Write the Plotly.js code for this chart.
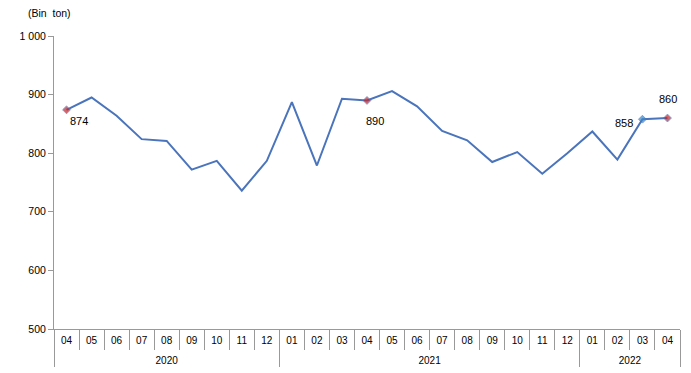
<!DOCTYPE html>
<html>
<head>
<meta charset="utf-8">
<script src="https://cdn.plot.ly/plotly-3.0.1.min.js"></script>
<style>html,body{margin:0;padding:0;background:#fff}#chart{width:691px;height:373px}</style>
</head>
<body>
<div id="chart"></div>
<script>
const years  = ["2020","2020","2020","2020","2020","2020","2020","2020","2020",
                "2021","2021","2021","2021","2021","2021","2021","2021","2021","2021","2021","2021",
                "2022","2022","2022","2022"];
const months = ["04","05","06","07","08","09","10","11","12",
                "01","02","03","04","05","06","07","08","09","10","11","12",
                "01","02","03","04"];
const values = [874, 895, 864, 824, 821, 772, 787, 736, 787,
                887, 779, 893, 890, 906, 880, 838, 822, 785, 802, 765, 800,
                837, 789, 858, 860];
const labeledIdx = [0, 12, 23, 24];
const yTicks = [500, 600, 700, 800, 900, 1000];
const yTickText = ["500", "600", "700", "800", "900", "1 000"];

// label styling (text size 10px on tick labels; year row pushed down one short line)
const span = t => "<span style='font-size:10px'>" + t + "</span>";
const uniqueYears = [...new Set(years)];
// Plotly groups repeated second-level names across years; a zero-width suffix per year keeps data order.
const monthKeys = months.map((m, i) => span(m + "\u200b".repeat(uniqueYears.indexOf(years[i]))));
const yearKeys = years.map(y => "<br>" + span(y));

const markerColors = values.map((v, i) => (i === 23 ? "#3A86C8" : "#C0282D"));
const markerSizes = values.map((v, i) => (labeledIdx.includes(i) ? 6 : 0));

const trace = {
  type: "scatter",
  mode: "lines+markers",
  x: [yearKeys, monthKeys],
  y: values,
  line: {color: "#4A74BC", width: 2},
  marker: {symbol: "diamond", size: markerSizes, color: markerColors},
  hoverinfo: "none",
  cliponaxis: false
};

const labelOffsets = {0: [12, -11], 12: [8, -21], 23: [-18, -4], 24: [1, 19]};
const labelAnns = labeledIdx.map(i => ({
  xref: "x", yref: "y", x: i, y: values[i],
  xshift: labelOffsets[i][0], yshift: labelOffsets[i][1],
  xanchor: "center", yanchor: "middle",
  text: String(values[i]), showarrow: false,
  font: {size: 11, color: "#000"}
}));

const layout = {
  width: 691, height: 373,
  margin: {l: 54, r: 11, t: 36, b: 44},
  paper_bgcolor: "#fff", plot_bgcolor: "#fff",
  showlegend: false,
  font: {family: "Liberation Sans, Arial, sans-serif", size: 10, color: "#000"},
  xaxis: {
    type: "multicategory",
    range: [-0.5, values.length - 0.5],
    showline: true, linecolor: "#999", linewidth: 1,
    ticks: "outside", tickson: "boundaries", ticklen: 20, tickcolor: "#999",
    ticklabelstandoff: 4,
    showdividers: true, dividercolor: "#999", dividerwidth: 1,
    showgrid: false, zeroline: false,
    tickfont: {size: 8.5, color: "#000"}
  },
  yaxis: {
    range: [500, 1000],
    tickvals: yTicks, ticktext: yTickText,
    showline: true, linecolor: "#999", linewidth: 1,
    ticks: "outside", ticklen: 5, tickcolor: "#999",
    showgrid: false, zeroline: false,
    tickfont: {size: 10.5, color: "#000"}
  },
  annotations: labelAnns.concat([{
    xref: "paper", yref: "paper", x: -0.045, y: 1.0, yshift: 23,
    xanchor: "left", yanchor: "middle",
    text: "(Bin  ton)", showarrow: false,
    font: {size: 10.5, color: "#000"}
  }])
};

Plotly.newPlot("chart", [trace], layout, {displayModeBar: false, staticPlot: true});
</script>
</body>
</html>
